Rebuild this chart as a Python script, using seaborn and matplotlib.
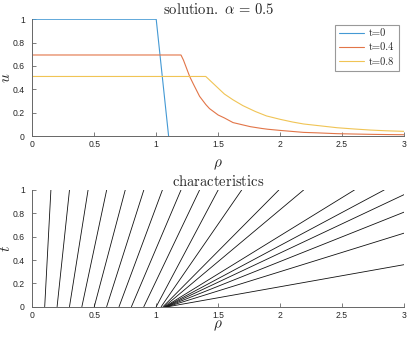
import numpy as np
import pandas as pd
import matplotlib
matplotlib.use("Agg")
import matplotlib.pyplot as plt
from matplotlib.lines import Line2D
import seaborn as sns

# ---------------- data ----------------
series_labels = ["t=0", "t=0.4", "t=0.8"]

rho_t0 = [0.0, 1.0, 1.1]
u_t0 = [1.0, 1.0, 0.0]

rho_t04 = [0.0, 1.2, 1.22, 1.27, 1.3, 1.35, 1.4, 1.43, 1.5, 1.55, 1.62, 1.7, 1.76,
           1.85, 1.9, 2.0, 2.19, 2.3, 2.46, 2.6, 2.75, 2.9, 3.0]
u_t04 = [0.694, 0.694, 0.65, 0.51, 0.445, 0.34, 0.27, 0.235, 0.18, 0.155, 0.115, 0.095, 0.08,
         0.065, 0.058, 0.048, 0.031, 0.027, 0.02, 0.017, 0.014, 0.012, 0.011]

rho_t08 = [0.0, 1.4, 1.45, 1.49, 1.55, 1.62, 1.7, 1.76, 1.8, 1.89, 2.0, 2.1, 2.19,
           2.3, 2.46, 2.6, 2.73, 2.85, 3.0]
u_t08 = [0.51, 0.51, 0.46, 0.42, 0.36, 0.31, 0.26, 0.23, 0.21, 0.172, 0.143, 0.12, 0.103,
         0.09, 0.071, 0.06, 0.051, 0.045, 0.040]

# characteristics: start position at t=0 and end point (rho_end, t_end)
char_start = [0.1, 0.2, 0.3, 0.4, 0.5, 0.6, 0.7, 0.8, 0.9, 1.0,
              1.04, 1.055, 1.065, 1.07, 1.075, 1.08, 1.085, 1.09, 1.095]
char_end_rho = [0.15, 0.3, 0.45, 0.6, 0.75, 0.9, 1.05, 1.2, 1.35, 1.5,
                1.69, 1.99, 2.19, 2.60, 2.84, 3.0, 3.0, 3.0, 3.0]
char_end_t = [1, 1, 1, 1, 1, 1, 1, 1, 1, 1,
              1, 1, 1, 1, 1, 0.96, 0.81, 0.63, 0.36]

xticks = [0, 0.5, 1, 1.5, 2, 2.5, 3]
yticks = [0, 0.2, 0.4, 0.6, 0.8, 1]
colors = ["#4499d4", "#e27548", "#f0c455"]

# ---------------- build tables ----------------
sol = pd.concat([
    pd.DataFrame({"rho": rho_t0, "u": u_t0, "series": series_labels[0]}),
    pd.DataFrame({"rho": rho_t04, "u": u_t04, "series": series_labels[1]}),
    pd.DataFrame({"rho": rho_t08, "u": u_t08, "series": series_labels[2]}),
], ignore_index=True)

rows = []
for i, (s, er, et) in enumerate(zip(char_start, char_end_rho, char_end_t)):
    rows.append({"id": i, "rho": s, "t": 0.0})
    rows.append({"id": i, "rho": er, "t": et})
chars = pd.DataFrame(rows)

# ---------------- style ----------------
sns.set_theme(style="ticks")
plt.rcParams["mathtext.fontset"] = "cm"
plt.rcParams["font.family"] = ["Liberation Sans", "DejaVu Sans"]
plt.rcParams["xtick.direction"] = "in"
plt.rcParams["ytick.direction"] = "in"
plt.rcParams["axes.formatter.use_mathtext"] = False

fig = plt.figure(figsize=(4.07, 3.38), dpi=100)
ax1 = fig.add_axes([0.0794, 0.5976, 0.9132, 0.3454])
ax2 = fig.add_axes([0.0794, 0.0926, 0.9132, 0.3453])

sns.lineplot(data=sol, x="rho", y="u", hue="series", palette=colors,
             estimator=None, sort=False, linewidth=0.8, ax=ax1, legend=False)
sns.lineplot(data=chars, x="rho", y="t", units="id", estimator=None,
             sort=False, color="#111111", linewidth=0.6, ax=ax2, legend=False)

spine_c = "#666666"
for ax in (ax1, ax2):
    ax.set_xlim(0, 3)
    ax.set_ylim(0, 1)
    ax.set_xticks(xticks)
    ax.set_xticklabels([f"{v:g}" for v in xticks])
    ax.set_yticks(yticks)
    ax.set_yticklabels([f"{v:g}" for v in yticks])
    for side in ("top", "right"):
        ax.spines[side].set_visible(False)
    for side in ("left", "bottom"):
        ax.spines[side].set_color(spine_c)
        ax.spines[side].set_linewidth(0.7)
    ax.tick_params(axis="both", labelsize=6.2, colors=spine_c, labelcolor="#262626",
                   length=3, width=0.6)
    ax.tick_params(axis="x", pad=3)
    ax.tick_params(axis="y", pad=5.5)
    ax.set_xlabel(r"$\rho$", fontsize=11)
    ax.yaxis.set_label_coords(-0.052, 0.5)

ax1.xaxis.set_label_coords(0.5, -0.185)
ax2.xaxis.set_label_coords(0.5, -0.105)
ax1.set_ylabel(r"$u$", fontsize=11)
ax2.set_ylabel(r"$t$", fontsize=11)
ax1.set_title(r"$\mathrm{solution.}\ \alpha\, =\, 0.5$", fontsize=10.5, pad=4)
ax2.set_title(r"$\mathrm{characteristics}$", fontsize=10.5, pad=3)

handles = [Line2D([0], [0], color=c, lw=0.8) for c in colors]
leg = ax1.legend(handles, series_labels, loc="upper right", bbox_to_anchor=(0.9855, 0.955),
                 prop={"family": "cmr10", "size": 7.5}, frameon=True, fancybox=False,
                 framealpha=1, handlelength=2.4, handletextpad=0.45, borderpad=0.4,
                 labelspacing=0.45, borderaxespad=0.0)
leg.get_frame().set_edgecolor("#999999")
leg.get_frame().set_linewidth(0.8)

fig.savefig("out.png", dpi=100)
